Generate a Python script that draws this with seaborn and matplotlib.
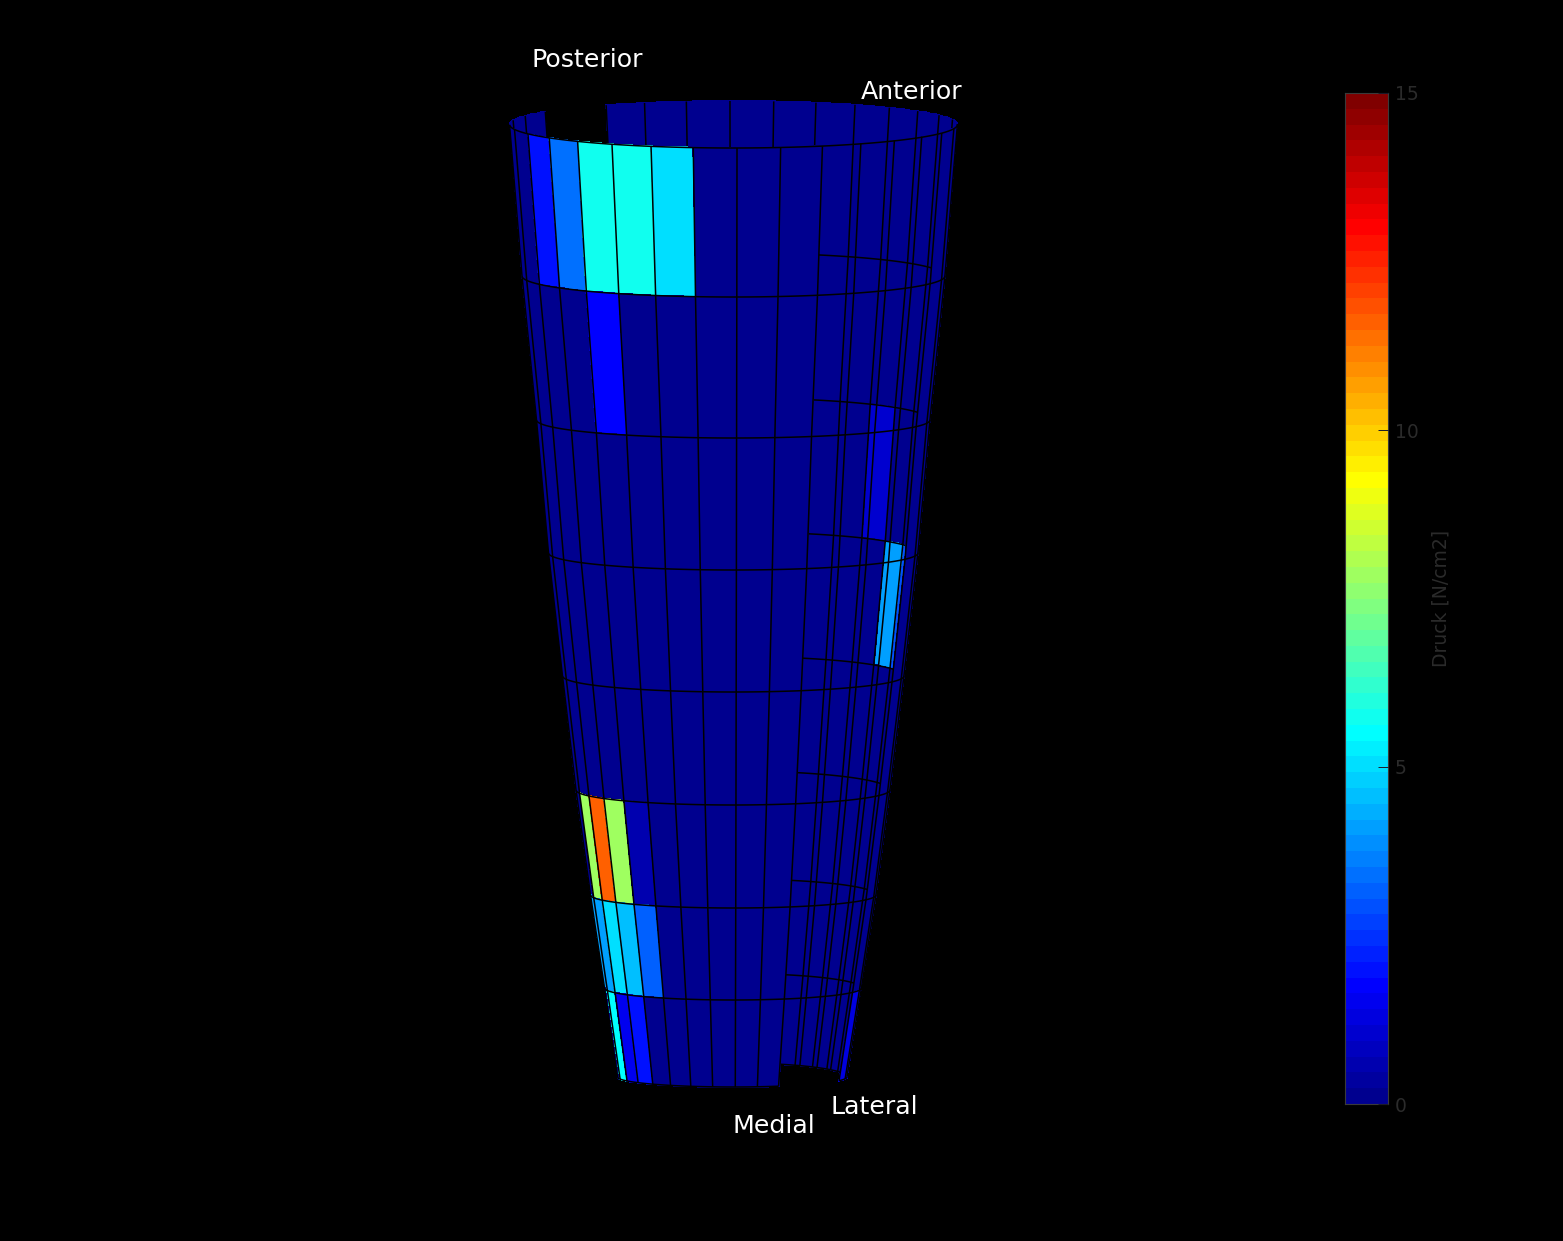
"""Druck auf der Schaftwand: abgewickeltes Sensorraster als Kegelmantel."""
import numpy as np
import matplotlib
matplotlib.use("Agg")
import matplotlib.pyplot as plt
from matplotlib.colors import ListedColormap
import seaborn as sns

nan = np.nan

# cone geometry, top ring first
ring_height = [952.5, 801, 657, 524, 401, 287, 182, 89, 0]
ring_radius = [224, 211.5, 196.5, 184.5, 170.5, 156.5, 142.5, 128, 113.5]
ring_radius_left = [224, 211.5, 197, 185, 171, 157.5, 143, 129, 116]
ring_depth = [23.5, 21, 18, 17, 16, 15, 13, 12, 10]
ring_depth_back = [23.5, 23, 22, 21, 19.5, 19, 16, 14.5, 14]
first_angle = -89.1
n_sectors = 32

# pressure [N/cm2] per row; sector 0-15 front wall, 16-31 back wall
row_1 = [0, 0, 1.9, 3.3, 5.7, 5.7, 5.1, 0, 0, 0, nan, nan, nan, nan, 0, 0,
         0.2, 0.2, 0.2, 0, 0, 0, 0, 0, 0, 0, 0, nan, nan, 0, 0, 0]
row_2 = [0, 0, 0, 0, 1.7, 0, 0, 0, 0, 0, nan, nan, nan, nan, 0, 0,
         0, 0, 0, 0, 0, 0, 0, 0, 0, 0, 0, 0, 0, 0, 0, 0]
row_3 = [0, 0, 0, 0, 0, 0, 0, 0, 0, 0, nan, nan, nan, nan, 0, 0,
         0, 0, 0, 1.1, 0, 0, 0, 0, 0, 0, 0, 0, 0, 0, 0, 0]
row_4 = [0, 0, 0, 0, 0, 0, 0, 0, 0, 0, nan, nan, nan, nan, 0, 0,
         0, 2.9, 4.1, 0, 0, 0, 0, 0, 0, 0, 0, 0, 0, 0, 0, 0]
row_5 = [0, 0, 0, 0, 0, 0, 0, 0, 0, 0, nan, nan, nan, nan, 0, 0,
         0, 0, 0, 0, 0, 0, 0, 0, 0, 0, 0, 0, 0, 0, 0, 0]
row_6 = [0, 7.8, 11.7, 7.8, 0.5, 0, 0, 0, 0, 0, nan, nan, nan, nan, 0, 0,
         0, 0, 0, 0, 0, 0, 0, 0, 0, 0, 0, 0, 0, 0, 0, 0]
row_7 = [4.1, 4.1, 5.1, 4.6, 3.2, 0, 0, 0, 0, 0, nan, nan, nan, nan, 0, 0,
         0, 0, 0, 0, 0, 0, 0, 0, 0, 0, 0, 0, 0, 0, 0, 0]
row_8 = [0, 5.6, 1.5, 1.9, 0.2, 0, 0, 0, 0, 0, nan, nan, nan, nan, 1.3, 1.3,
         0, 0, 0, 0, 0, 0, 0, 0, 0, 0, 0, 0, 0, 0, 0, 0]

pressure = np.array([row_1, row_2, row_3, row_4, row_5, row_6, row_7, row_8])
hole = (10, 14)  # front sectors left open

cbar_ticks = [0, 5, 10, 15]
cbar_label = "Druck [N/cm2]"
side_labels = ["Posterior", "Anterior", "Medial", "Lateral"]
side_label_pos = [(587, 60), (912, 92), (774, 1126), (874, 1107)]

V_MIN, V_MAX = 0, 15
SUB = 6  # sub-steps per sector so the rings stay round
LW = 1.1
BLACK = "#000000"  # "k" turns grey under seaborn's color codes

# matlab style jet, 64 steps
t = np.arange(1, 65) / 64
jet_rgb = np.clip(1.5 - np.abs(4 * t[:, None] - np.array([3, 2, 1])), 0, 1)
jet = ListedColormap(sns.color_palette(jet_rgb.tolist(), 64))

sns.set_theme(style="dark", rc={"figure.facecolor": "black", "axes.facecolor": "black"})
plt.rcParams["font.family"] = ["DejaVu Sans"]

fig = plt.figure(figsize=(15.63, 12.41), dpi=100)
ax = fig.add_axes([0, 0, 1, 1])
ax.set_xlim(-733.5, 829.5)
ax.set_ylim(-164, 1077)
ax.axis("off")

height = np.array(ring_height, dtype=float)
radius = np.array(ring_radius, dtype=float)
radius_left = np.array(ring_radius_left, dtype=float)
depth = np.array(ring_depth, dtype=float)
depth_back = np.array(ring_depth_back, dtype=float)


def project(theta_deg, ring):
    """Parallel projection of a wall point, theta 0 faces the viewer."""
    th = np.radians(theta_deg)
    s, c = np.sin(th), np.cos(th)
    x = np.where(s < 0, radius_left[ring], radius[ring]) * s
    y = height[ring] - np.where(c < 0, depth_back[ring], depth[ring]) * c
    return x, y


def sector_angle(k):
    return first_angle + k * 360 / n_sectors


def draw_wall(first, last, z):
    thetas = np.linspace(sector_angle(first), sector_angle(last), (last - first) * SUB + 1)
    th, rr = np.meshgrid(thetas, np.arange(len(height)))
    x, y = project(th, rr)
    values = np.repeat(pressure[:, first:last], SUB, axis=1)
    ax.pcolormesh(x, y, np.ma.masked_invalid(values), cmap=jet, vmin=V_MIN, vmax=V_MAX,
                  shading="flat", edgecolors="face", linewidth=0.25, antialiased=False, zorder=z)


def draw_rings(first, last, rings, z):
    thetas = np.linspace(sector_angle(first), sector_angle(last), (last - first) * SUB + 1)
    for r in rings:
        x, y = project(thetas, r)
        ax.plot(x, y, color=BLACK, lw=LW, solid_capstyle="butt", zorder=z)


def draw_spokes(sectors, z, last_ring=8):
    for k in sectors:
        x, y = project(sector_angle(k), np.arange(last_ring + 1))
        ax.plot(x, y, color=BLACK, lw=LW, solid_capstyle="butt", zorder=z)


# back wall, seen through the opening
draw_wall(16, 32, 1)
draw_rings(16, 32, range(1, 9), 2)
draw_spokes([k for k in range(16, 33) if k != 28], 2)

# front wall
draw_wall(0, 16, 3)
draw_rings(0, 16, range(0, 8), 4)
draw_rings(0, hole[0], [8], 4)
draw_rings(hole[1], 16, [8], 4)
draw_spokes([k for k in range(0, 17) if not hole[0] < k < hole[1]], 4)

# in the open sectors the last row stops at the back rim
for k in range(hole[0] + 1, hole[1]):
    theta = sector_angle(k)
    x7, y7 = project(theta, 7)
    x8, y8 = project(theta, 8)
    y_end = height[8] + depth_back[8] * np.cos(np.radians(theta))
    frac = (y7 - y_end) / (y7 - y8)
    ax.plot([x7, x7 + frac * (x8 - x7)], [y7, y_end], color=BLACK, lw=LW, zorder=4)
    draw_x, draw_y = project(theta, np.arange(8))
    ax.plot(draw_x, draw_y, color=BLACK, lw=LW, zorder=4)

for text, (px, py) in zip(side_labels, side_label_pos):
    ax.annotate(text, xy=(px / 1563, 1 - py / 1241), xycoords="figure fraction",
                color="white", fontsize=18.2, ha="center", va="center")

# colour bar
cax = fig.add_axes([1345 / 1563, 1 - 1104 / 1241, 43 / 1563, 1011 / 1241])
levels = (np.arange(64)[::-1] + 0.5) / 64 * (V_MAX - V_MIN)
sns.heatmap(levels.reshape(-1, 1), cmap=jet, vmin=V_MIN, vmax=V_MAX, cbar=False, ax=cax,
            xticklabels=False, yticklabels=False)
cax.set_axisbelow(False)
cax.yaxis.tick_right()
cax.set_yticks([(V_MAX - v) / V_MAX * 64 for v in cbar_ticks])
cax.set_yticklabels(cbar_ticks, rotation=0, color="#2b2b2b", fontsize=13.5)
cax.tick_params(axis="y", direction="in", length=7, width=0.7, color="#1a1a2a", right=True, left=False, pad=5)
cax.set_ylabel(cbar_label, color="#2b2b2b", fontsize=13.5, labelpad=9)
cax.yaxis.set_label_position("right")
for spine in cax.spines.values():
    spine.set_visible(True)
    spine.set_color("#3a3a3a")
    spine.set_linewidth(0.8)

fig.savefig("out.png", dpi=100, facecolor="black")
plt.close(fig)
